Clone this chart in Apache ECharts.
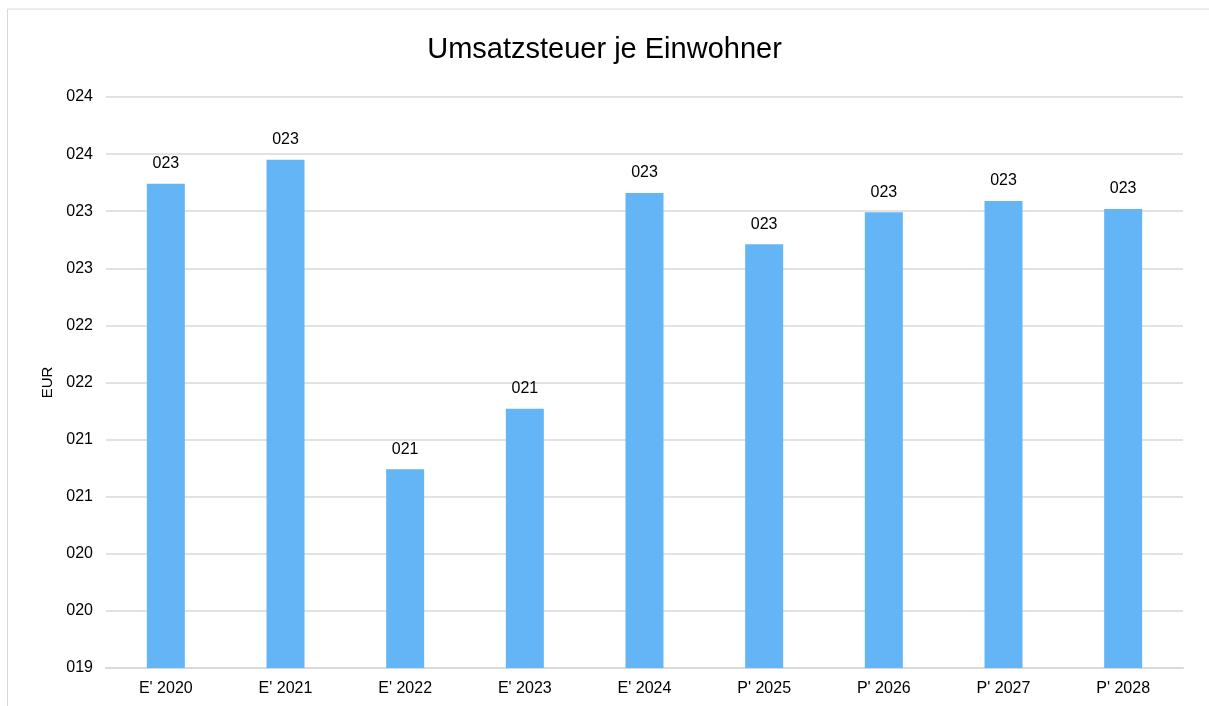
<!DOCTYPE html>
<html>
<head>
<meta charset="utf-8">
<script src="https://cdn.jsdelivr.net/npm/echarts@6/dist/echarts.min.js"></script>
<style>
  html, body { margin: 0; padding: 0; background: #fff; }
  #chart { width: 1209px; height: 706px; }
</style>
</head>
<body>
<div id="chart"></div>
<script>
// Kategorien (E = Ergebnis, P = Plan)
const categories = ["E' 2020", "E' 2021", "E' 2022", "E' 2023", "E' 2024", "P' 2025", "P' 2026", "P' 2027", "P' 2028"]
// Umsatzsteuer je Einwohner in EUR
const values = [23.24, 23.45, 20.74, 21.27, 23.16, 22.71, 22.99, 23.09, 23.02]

const fmt = v => String(Math.round(v)).padStart(3, '0')

const myChart = echarts.init(document.getElementById('chart'))
const option = {
  animation: false,
  textStyle: { fontFamily: 'Liberation Sans, Arial, sans-serif' },
  title: {
    text: 'Umsatzsteuer je Einwohner',
    left: 'center',
    top: 30,
    textStyle: { fontSize: 29, fontWeight: 'normal', color: '#000', fontFamily: 'Liberation Sans, Arial, sans-serif' }
  },
  graphic: [
    {
      type: 'rect',
      shape: { x: 7.5, y: 9, width: 1220, height: 720 },
      style: { fill: 'none', stroke: '#d9d9d9', lineWidth: 1 },
      silent: true
    }
  ],
  grid: { left: 106, right: 26, top: 97, bottom: 38 },
  xAxis: {
    type: 'category',
    data: categories,
    axisTick: { show: false },
    axisLine: { lineStyle: { color: '#d9d9d9', width: 2 } },
    axisLabel: { color: '#000', fontSize: 16, margin: 13 }
  },
  yAxis: {
    type: 'value',
    name: 'EUR',
    nameLocation: 'middle',
    nameGap: 48,
    nameTextStyle: { color: '#000', fontSize: 15 },
    min: 19,
    max: 24,
    interval: 0.5,
    axisLine: { show: false },
    axisTick: { show: false },
    splitLine: { lineStyle: { color: '#d9d9d9', width: 1.5 } },
    axisLabel: { color: '#000', fontSize: 16, margin: 13, formatter: fmt }
  },
  series: [
    {
      type: 'bar',
      data: values,
      barWidth: 38,
      itemStyle: { color: '#64b5f6' },
      label: {
        show: true,
        position: 'top',
        distance: 12,
        color: '#000',
        fontSize: 16,
        formatter: p => fmt(p.value)
      }
    }
  ]
}
myChart.setOption(option)
</script>
</body>
</html>
